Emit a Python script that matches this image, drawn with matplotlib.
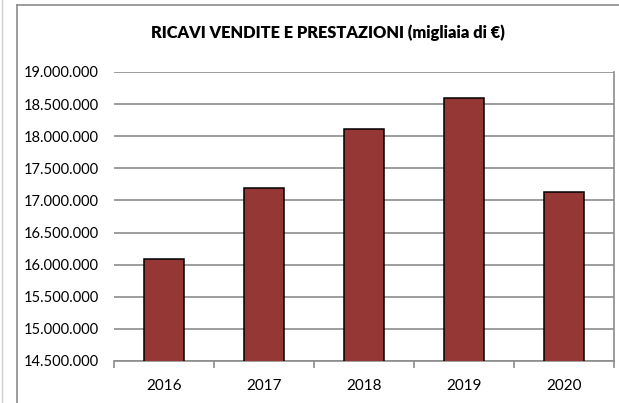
import numpy as np
import matplotlib
matplotlib.use('Agg')
import matplotlib.pyplot as plt
from matplotlib.ticker import FuncFormatter, FixedLocator

years = ['2016', '2017', '2018', '2019', '2020']
ricavi = [16090000, 17200000, 18115000, 18590000, 17130000]
title = 'RICAVI VENDITE E PRESTAZIONI (migliaia di €)'

plt.rcParams['font.family'] = ['Lato', 'DejaVu Sans']

fig = plt.figure(figsize=(6.19, 4.03), dpi=100)
ax = fig.add_axes([114 / 619, 1 - 361 / 403, 500 / 619, 289 / 403])

x = np.arange(len(years))
ax.bar(x, ricavi, width=0.4, color='#953735', edgecolor='black',
       linewidth=1.1, zorder=3)

ax.set_xlim(-0.5, len(years) - 0.5)
ax.set_ylim(14500000, 19000000)
ax.set_yticks(np.arange(14500000, 19000001, 500000))
ax.yaxis.set_major_formatter(
    FuncFormatter(lambda v, p: '{:,.0f}'.format(v).replace(',', '.')))
ax.grid(axis='y', color='#8c8c8c', linewidth=1.2, zorder=0)
ax.tick_params(axis='y', length=0, pad=11, labelsize=10.5, colors='black')

ax.set_xticks(x)
ax.set_xticklabels(years)
ax.xaxis.set_minor_locator(FixedLocator(np.arange(-0.5, len(years), 1.0)))
ax.tick_params(axis='x', which='major', length=0, pad=13, labelsize=11)
ax.tick_params(axis='x', which='minor', length=5, width=1.2,
               color='#8c8c8c', direction='out')

for side in ['top', 'left']:
    ax.spines[side].set_visible(False)
for side in ['bottom', 'right']:
    ax.spines[side].set_color('#8c8c8c')
    ax.spines[side].set_linewidth(1.2)

fig.text(328 / 619, 1 - 33 / 403, title, ha='center', va='center',
         fontsize=11.8, fontweight='heavy')

# chart frame
fig.add_artist(plt.Line2D([17 / 619, 17 / 619], [0, 1 - 5 / 403],
                          transform=fig.transFigure, color='#8c8c8c', lw=1.2))
fig.add_artist(plt.Line2D([17 / 619, 1], [1 - 5 / 403, 1 - 5 / 403],
                          transform=fig.transFigure, color='#8c8c8c', lw=1.2))
fig.add_artist(plt.Line2D([2 / 619, 2 / 619], [0, 1],
                          transform=fig.transFigure, color='#d0d0d0', lw=1))

fig.savefig('out.png', dpi=100)
